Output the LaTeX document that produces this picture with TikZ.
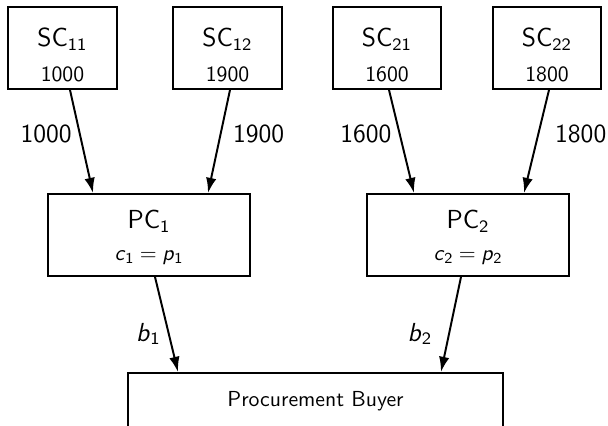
\documentclass[tikz,border=0pt]{standalone}
\usetikzlibrary{arrows.meta,calc}
\renewcommand{\familydefault}{\sfdefault}

\begin{document}
\begin{tikzpicture}[x=0.46pt,y=-0.46pt,
    scbox/.style={draw,line width=0.9pt,minimum width=50.1pt,minimum height=37.7pt,
      align=center,inner sep=0pt},
    pcbox/.style={draw,line width=0.9pt,minimum width=92.9pt,minimum height=37.7pt,
      align=center,inner sep=0pt},
    flow/.style={draw,line width=0.9pt,-{Latex[length=7pt,width=4.8pt]}},
    amt/.style={font=\large}]

      \useasboundingbox (0,0) rectangle (608,426);

      % suppliers
      \begin{scope}[every node/.style=scbox]
        \node (sc11) at (62.5,48) {{\large\rule{0pt}{15.2pt}SC\textsubscript{11}}\\[4pt]1000};
        \node (sc12) at (227.5,48) {{\large\rule{0pt}{15.2pt}SC\textsubscript{12}}\\[4pt]1900};
        \node (sc21) at (387,48) {{\large\rule{0pt}{15.2pt}SC\textsubscript{21}}\\[4pt]1600};
        \node (sc22) at (547,48) {{\large\rule{0pt}{15.2pt}SC\textsubscript{22}}\\[4pt]1800};
      \end{scope}

      % procurement centres
      \begin{scope}[every node/.style=pcbox]
        \node (pc1) at (149,235) {{\large\rule{0pt}{10.7pt}PC\textsubscript{1}}\\[2.3pt]%
          \textit{c}\textsubscript{1}\hspace{0.25em}=\hspace{0.25em}\textit{p}\textsubscript{1}};
        \node (pc2) at (468,235) {{\large\rule{0pt}{10.7pt}PC\textsubscript{2}}\\[2.3pt]%
          \textit{c}\textsubscript{2}\hspace{0.25em}=\hspace{0.25em}\textit{p}\textsubscript{2}};
      \end{scope}

      \node[draw,line width=0.9pt,minimum width=172.5pt,minimum height=26.2pt,anchor=north]
        (buyer) at (315.5,372) {Procurement Buyer};

      \begin{scope}[every edge/.style=flow]
        \path ($(sc11.south)+(7.5,0)$) edge node[amt,left,pos=.43] {1000} ($(pc1.north)+(-56,0)$);
        \path ($(sc12.south)+(2.5,0)$) edge node[amt,right=2pt,pos=.43] {1900} ($(pc1.north)+(59,0)$);
        \path ($(sc21.south)+(2,0)$) edge node[amt,left,pos=.43] {1600} ($(pc2.north)+(-54,0)$);
        \path ($(sc22.south)+(2,0)$) edge node[amt,right=4pt,pos=.43] {1800} ($(pc2.north)+(56,0)$);
        \path ($(pc1.south)+(6,0)$) edge node[amt,left,pos=.6] {\textit{b}\textsubscript{1}} ($(buyer.north)+(-137.5,0)$);
        \path ($(pc2.south)+(-7,0)$) edge node[amt,left=4pt,pos=.6] {\textit{b}\textsubscript{2}} ($(buyer.north)+(125.5,0)$);
      \end{scope}

    \end{tikzpicture}
\end{document}
